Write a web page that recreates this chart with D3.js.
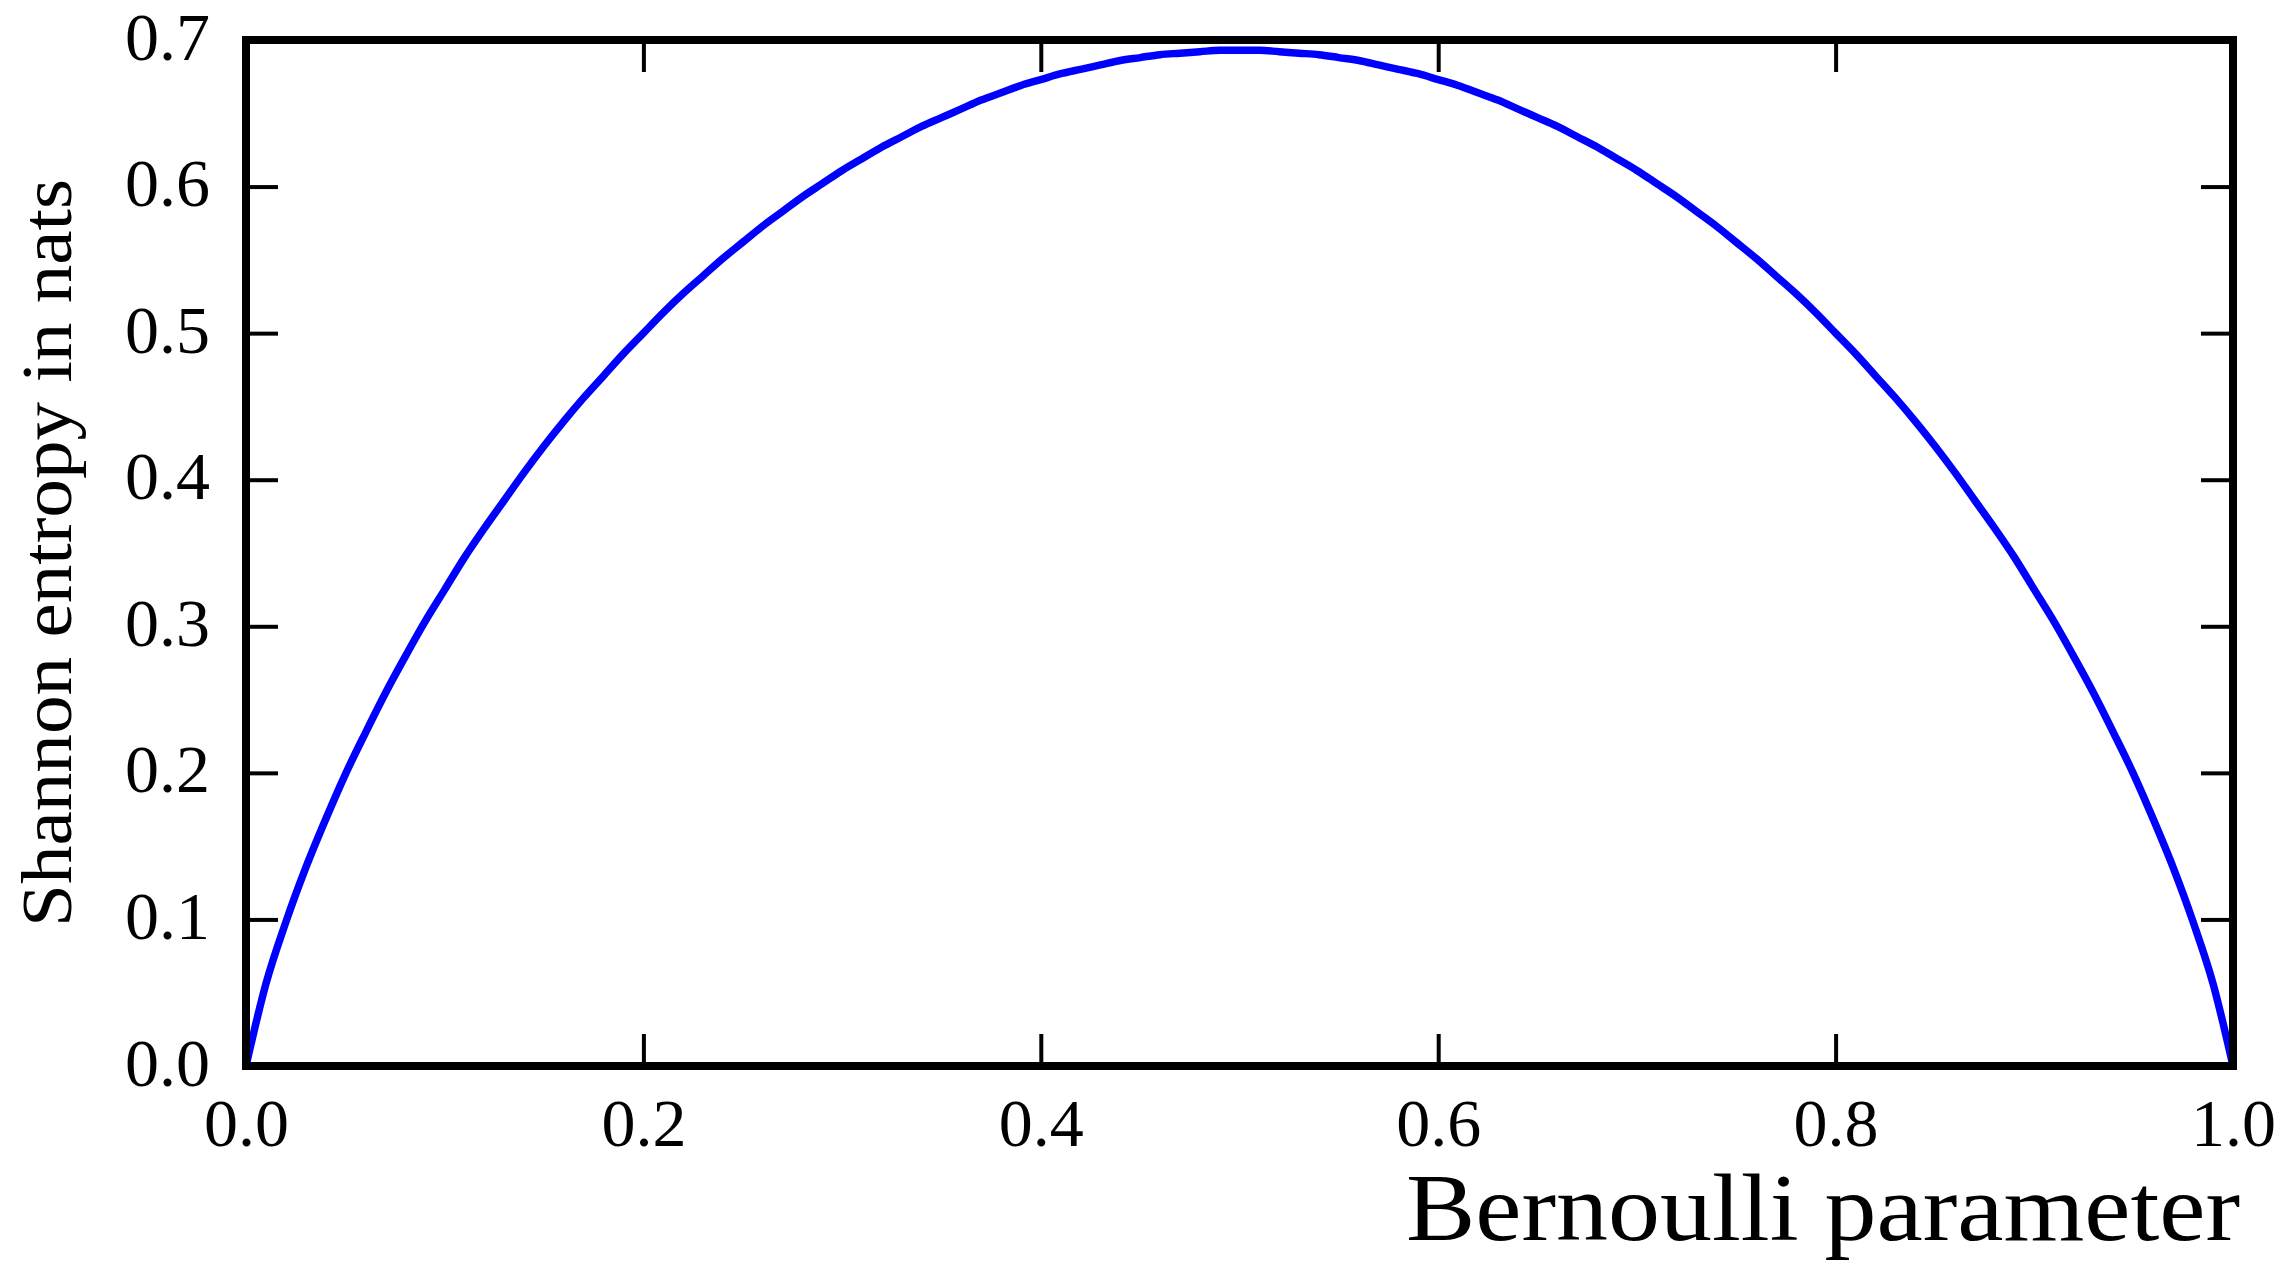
<!DOCTYPE html>
<html>
<head>
<meta charset="utf-8">
<script src="https://cdn.jsdelivr.net/npm/d3@7"></script>
<style>
  body { margin: 0; background: #fff; }
  text { font-family: "Liberation Serif", serif; fill: #000; }
</style>
</head>
<body>
<svg id="svg" width="2296" height="1262"></svg>
<script>
// Bernoulli parameter p and Shannon entropy (nats)
var pValues = [0.00,0.01,0.02,0.03,0.04,0.05,0.06,0.07,0.08,0.09,
  0.10,0.11,0.12,0.13,0.14,0.15,0.16,0.17,0.18,0.19,
  0.20,0.21,0.22,0.23,0.24,0.25,0.26,0.27,0.28,0.29,
  0.30,0.31,0.32,0.33,0.34,0.35,0.36,0.37,0.38,0.39,
  0.40,0.41,0.42,0.43,0.44,0.45,0.46,0.47,0.48,0.49,
  0.50,0.51,0.52,0.53,0.54,0.55,0.56,0.57,0.58,0.59,
  0.60,0.61,0.62,0.63,0.64,0.65,0.66,0.67,0.68,0.69,
  0.70,0.71,0.72,0.73,0.74,0.75,0.76,0.77,0.78,0.79,
  0.80,0.81,0.82,0.83,0.84,0.85,0.86,0.87,0.88,0.89,
  0.90,0.91,0.92,0.93,0.94,0.95,0.96,0.97,0.98,0.99,1.00];

var entropy = [0.000,0.056,0.098,0.135,0.168,0.199,0.227,0.254,0.279,0.303,
  0.325,0.347,0.367,0.386,0.405,0.423,0.440,0.456,0.471,0.486,
  0.500,0.514,0.527,0.539,0.551,0.562,0.573,0.583,0.593,0.602,
  0.611,0.619,0.627,0.634,0.641,0.647,0.653,0.659,0.664,0.669,
  0.673,0.677,0.680,0.683,0.686,0.688,0.690,0.691,0.692,0.693,
  0.693,0.693,0.692,0.691,0.690,0.688,0.686,0.683,0.680,0.677,
  0.673,0.669,0.664,0.659,0.653,0.647,0.641,0.634,0.627,0.619,
  0.611,0.602,0.593,0.583,0.573,0.562,0.551,0.539,0.527,0.514,
  0.500,0.486,0.471,0.456,0.440,0.423,0.405,0.386,0.367,0.347,
  0.325,0.303,0.279,0.254,0.227,0.199,0.168,0.135,0.098,0.056,0.000];

var xTicks = [0.0, 0.2, 0.4, 0.6, 0.8, 1.0];
var yTicks = [0.0, 0.1, 0.2, 0.3, 0.4, 0.5, 0.6, 0.7];

var xLabel = "Bernoulli parameter";
var yLabel = "Shannon entropy in nats";

var plotLeft = 246, plotRight = 2233, plotTop = 40, plotBottom = 1066;
var tickLen = 32;

var svg = d3.select("#svg");

var x = d3.scaleLinear().domain([0, 1]).range([plotLeft, plotRight]);
var y = d3.scaleLinear().domain([0, 0.7]).range([plotBottom, plotTop]);
var fmt = d3.format(".1f");

// curve
var line = d3.line()
    .x(function(d, i) { return x(pValues[i]); })
    .y(function(d) { return y(d); })
    .curve(d3.curveMonotoneX);

svg.append("path")
    .datum(entropy)
    .attr("d", line)
    .attr("fill", "none")
    .attr("stroke", "#0000ff")
    .attr("stroke-width", 7.5)
    .attr("stroke-linejoin", "round");

// axes, ticks pointing inward on all four sides
function styleAxis(g) {
    g.select(".domain").remove();
    g.selectAll(".tick line").attr("stroke", "#000").attr("stroke-width", 4);
    g.selectAll(".tick text").attr("font-family", "Liberation Serif, serif").attr("font-size", 68).attr("fill", "#000");
}

svg.append("g")
    .attr("transform", "translate(0," + plotBottom + ")")
    .call(d3.axisBottom(x).tickValues(xTicks).tickFormat(fmt).tickSize(-tickLen).tickPadding(32))
    .call(styleAxis);

svg.append("g")
    .attr("transform", "translate(0," + plotTop + ")")
    .call(d3.axisTop(x).tickValues(xTicks).tickFormat("").tickSize(-tickLen))
    .call(styleAxis);

svg.append("g")
    .attr("transform", "translate(" + plotLeft + ",0)")
    .call(d3.axisLeft(y).tickValues(yTicks).tickFormat(fmt).tickSize(-tickLen).tickPadding(36))
    .call(styleAxis)
    .selectAll(".tick text").attr("dy", "0.28em");

svg.append("g")
    .attr("transform", "translate(" + plotRight + ",0)")
    .call(d3.axisRight(y).tickValues(yTicks).tickFormat("").tickSize(-tickLen))
    .call(styleAxis);

// frame
svg.append("rect")
    .attr("x", plotLeft)
    .attr("y", plotTop)
    .attr("width", plotRight - plotLeft)
    .attr("height", plotBottom - plotTop)
    .attr("fill", "none")
    .attr("stroke", "#000")
    .attr("stroke-width", 8);

// axis labels
svg.append("text")
    .attr("x", 2240)
    .attr("y", 1240)
    .attr("text-anchor", "end")
    .attr("font-size", 96)
    .attr("textLength", 834)
    .attr("lengthAdjust", "spacingAndGlyphs")
    .text(xLabel);

svg.append("text")
    .attr("transform", "translate(71," + ((plotTop + plotBottom) / 2) + ") rotate(-90)")
    .attr("text-anchor", "middle")
    .attr("font-size", 72)
    .attr("textLength", 748)
    .attr("lengthAdjust", "spacingAndGlyphs")
    .text(yLabel);
</script>
</body>
</html>
